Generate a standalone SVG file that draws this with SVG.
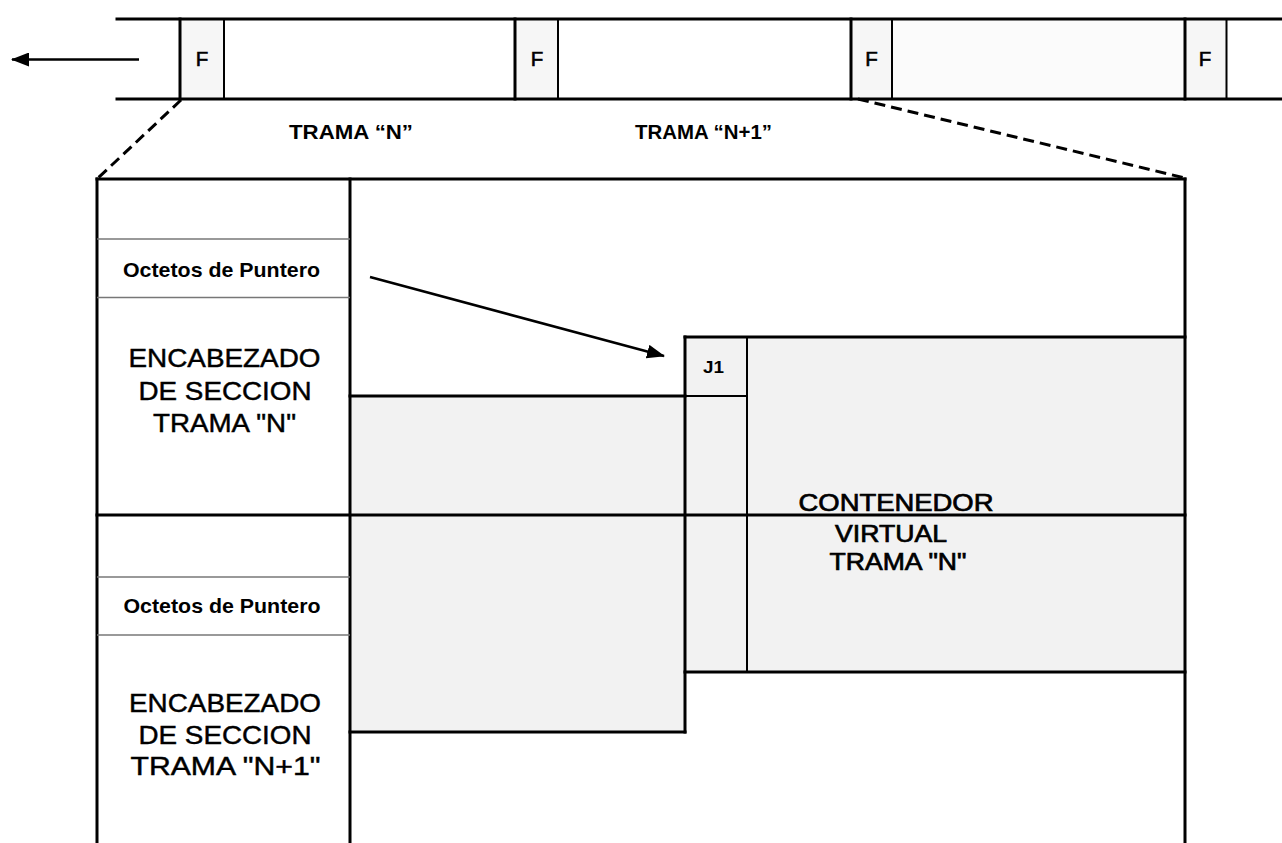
<svg xmlns="http://www.w3.org/2000/svg" width="1282" height="843" viewBox="0 0 1282 843">
<defs>
<style>
.thick{stroke:#000;stroke-width:3;fill:none;stroke-linecap:square}
.med{stroke:#000;stroke-width:2;fill:none}
.thin{stroke:#777;stroke-width:1.5;fill:none}
.dash{stroke:#000;stroke-width:3;fill:none;stroke-dasharray:11 6}
.t{font-family:"Liberation Sans",Arial,sans-serif;fill:#000;text-anchor:middle}
.b{font-weight:bold}
.big{font-size:25.5px;stroke:#000;stroke-width:0.45}
.cv{font-size:24px;stroke:#000;stroke-width:0.7}
.oct{font-size:21px;font-weight:bold}
.f{font-size:20.5px;stroke:#000;stroke-width:0.6}
</style>
<marker id="ah" viewBox="0 0 18 14" refX="17" refY="7" markerWidth="18" markerHeight="14" markerUnits="userSpaceOnUse" orient="auto">
<path d="M0,0 L18,7 L0,14 Z" fill="#000"/>
</marker>
</defs>
<rect width="1282" height="843" fill="#fff"/>

<g id="frame-strip">
<rect x="180" y="19" width="44" height="80" fill="#f6f6f6"/>
<rect x="515" y="19" width="42" height="80" fill="#f6f6f6"/>
<rect x="851" y="19" width="41" height="80" fill="#f6f6f6"/>
<rect x="1185" y="19" width="41" height="80" fill="#f6f6f6"/>
<rect x="892" y="19" width="293" height="80" fill="#fbfbfb"/>
<line class="thick" x1="117" y1="19" x2="1282" y2="19"/>
<line class="thick" x1="117" y1="99" x2="1282" y2="99"/>
<line class="thick" x1="180" y1="19" x2="180" y2="99"/>
<line class="med" x1="224" y1="19" x2="224" y2="99"/>
<line class="thick" x1="515" y1="19" x2="515" y2="99"/>
<line class="med" x1="558" y1="19" x2="558" y2="99"/>
<line class="thick" x1="851" y1="19" x2="851" y2="99"/>
<line class="med" x1="892" y1="19" x2="892" y2="99"/>
<line class="thick" x1="1185" y1="19" x2="1185" y2="99"/>
<line class="med" x1="1226.5" y1="19" x2="1226.5" y2="99"/>
<text class="t f" x="202" y="66">F</text>
<text class="t f" x="537" y="66">F</text>
<text class="t f" x="871.5" y="66">F</text>
<text class="t f" x="1205" y="66">F</text>
</g>

<g id="label-trama-n">
<text class="t b" font-size="19.5" x="351" y="138.5" textLength="124" lengthAdjust="spacingAndGlyphs">TRAMA “N”</text>
</g>
<g id="label-trama-n1">
<text class="t b" font-size="19.5" x="703.5" y="138.5" textLength="137" lengthAdjust="spacingAndGlyphs">TRAMA “N+1”</text>
</g>

<g id="virtual-container">
<polygon points="350,396 685,396 685,337 1185,337 1185,672 685,672 685,732 350,732" fill="#f2f2f2"/>
<line class="thick" x1="685" y1="337" x2="1185" y2="337"/>
<line class="thick" x1="685" y1="337" x2="685" y2="732"/>
<line class="thick" x1="350" y1="396" x2="685" y2="396"/>
<line class="med" x1="685" y1="396" x2="747" y2="396"/>
<line class="med" x1="747" y1="337" x2="747" y2="672"/>
<line class="thick" x1="685" y1="672" x2="1185" y2="672"/>
<line class="thick" x1="350" y1="732" x2="685" y2="732"/>
<text class="t b" font-size="16.5" x="713.5" y="373" textLength="21" lengthAdjust="spacingAndGlyphs">J1</text>
</g>

<g id="stm-frame">
<line class="thick" x1="97" y1="179" x2="1185" y2="179"/>
<line class="thick" x1="97" y1="179" x2="97" y2="843"/>
<line class="thick" x1="350" y1="179" x2="350" y2="843"/>
<line class="thick" x1="1185" y1="179" x2="1185" y2="843"/>
<line class="thick" x1="97" y1="515" x2="1185" y2="515"/>
</g>

<g id="section-header-n">
<line class="thin" x1="97" y1="239" x2="350" y2="239"/>
<line class="thin" x1="97" y1="297.5" x2="350" y2="297.5"/>
<text class="t oct" x="221.5" y="276.5" textLength="197" lengthAdjust="spacingAndGlyphs">Octetos de Puntero</text>
<text class="t big" x="224.5" y="367" textLength="192" lengthAdjust="spacingAndGlyphs">ENCABEZADO</text>
<text class="t big" x="225" y="400" textLength="173" lengthAdjust="spacingAndGlyphs">DE SECCION</text>
<text class="t big" x="224.5" y="432" textLength="143" lengthAdjust="spacingAndGlyphs">TRAMA "N"</text>
</g>

<g id="section-header-n1">
<line class="thin" x1="97" y1="577" x2="350" y2="577"/>
<line class="thin" x1="97" y1="635" x2="350" y2="635"/>
<text class="t oct" x="222" y="612.5" textLength="197" lengthAdjust="spacingAndGlyphs">Octetos de Puntero</text>
<text class="t big" x="225" y="711.5" textLength="192" lengthAdjust="spacingAndGlyphs">ENCABEZADO</text>
<text class="t big" x="225" y="743.5" textLength="173" lengthAdjust="spacingAndGlyphs">DE SECCION</text>
<text class="t big" x="225.5" y="775" textLength="190" lengthAdjust="spacingAndGlyphs">TRAMA "N+1"</text>
</g>

<g id="label-contenedor">
<text class="t cv" x="896" y="510.5" textLength="195" lengthAdjust="spacingAndGlyphs">CONTENEDOR</text>
<text class="t cv" x="891" y="541.5" textLength="112" lengthAdjust="spacingAndGlyphs">VIRTUAL</text>
<text class="t cv" x="898" y="570" textLength="137" lengthAdjust="spacingAndGlyphs">TRAMA "N"</text>
</g>

<g id="connectors">
<line x1="139" y1="59.5" x2="12" y2="59.5" stroke="#000" stroke-width="2.5" marker-end="url(#ah)"/>
<line class="dash" x1="181" y1="100" x2="97" y2="179"/>
<line class="dash" x1="858" y1="99" x2="1185" y2="178"/>
<line x1="370" y1="277" x2="664" y2="356" stroke="#000" stroke-width="2.5" marker-end="url(#ah)"/>
</g>
</svg>
